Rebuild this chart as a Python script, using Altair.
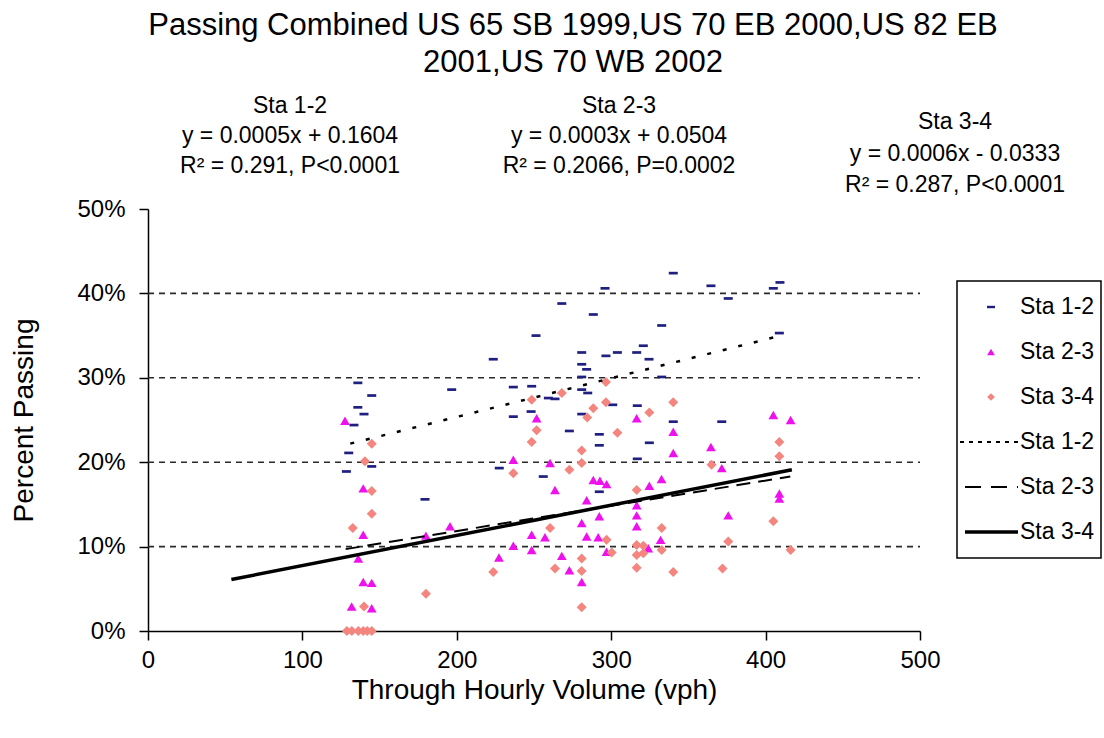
import altair as alt
import pandas as pd

# ---------------- data ----------------
# Sta 1-2 (navy dash markers): volume (vph), percent passing (%)
s12_x = [128.5, 130, 133.4, 135.9, 135.9, 139.9, 144.9, 144.9, 179.4, 196.7,
         223.6, 227.5, 236.6, 236.6, 248.5, 248.1, 251.3, 256, 259.3, 263.6,
         268, 272.9, 280.9, 280.9, 280.9, 280.9, 280.9, 284.1, 284.8, 288.4,
         292.3, 292.3, 292.3, 296, 296.6, 301, 304, 316.5, 316.9, 316.9,
         320.8, 324.5, 324.7, 332.7, 332.7, 340.2, 340.2, 364.6, 371.6, 375.8,
         405, 409.3, 408.9]
s12_y = [18.9, 21.1, 24.4, 29.4, 26.5, 25.7, 27.9, 19.5, 15.6, 28.6,
         32.2, 19.3, 28.9, 25.4, 29.0, 26.0, 35.0, 18.3, 27.6, 27.5,
         38.8, 23.7, 33.0, 31.6, 30.1, 28.6, 25.7, 31.0, 28.2, 37.5,
         23.3, 22.0, 16.5, 40.6, 32.6, 26.8, 33.0, 33.0, 26.7, 20.4,
         33.8, 32.2, 22.3, 36.2, 30.1, 42.4, 24.8, 40.9, 24.8, 39.4,
         40.6, 41.3, 35.3]

# Sta 2-3 (magenta triangles)
s23_x = [127.6, 139.4, 139.4, 136.2, 139.4, 144.9, 131.9, 144.9, 180, 195.6,
         227.3, 236.6, 236.6, 248.5, 248.5, 251.7, 257.1, 260.4, 263.6, 268,
         272.9, 280.9, 280.9, 284.1, 284.1, 288.4, 291.6, 292.3, 292.7, 297,
         297, 316.5, 316.5, 316.5, 316.5, 324.7, 324, 332.6, 332, 340.2,
         340.2, 364.6, 371.6, 375.8, 405, 416.2, 408.9, 408.9]
s23_y = [24.9, 16.9, 11.4, 8.6, 5.8, 5.7, 2.9, 2.7, 11.3, 12.4,
         8.7, 20.3, 10.1, 11.4, 9.6, 25.2, 11.1, 19.9, 16.7, 8.9,
         7.2, 12.8, 5.8, 15.5, 11.2, 17.9, 11.1, 13.6, 17.8, 17.4,
         9.4, 25.2, 14.9, 13.7, 12.4, 17.2, 9.8, 18.0, 10.8, 23.6,
         21.1, 21.8, 19.3, 13.7, 25.6, 25.0, 16.3, 15.7]

# Sta 3-4 (salmon diamonds)
s34_x = [128.8, 132, 136.2, 139.4, 142, 144.9, 132.6, 139.9, 140.5, 144.9,
         144.9, 144.9, 180, 223.6, 236.6, 248.5, 248.5, 251.7, 260.4, 263.6,
         268, 272.9, 280.9, 280.9, 280.9, 280.9, 280.9, 284.5, 288.4, 296.6,
         296.6, 297, 300.3, 304, 316.5, 316.5, 316.5, 316.5, 320.8, 320.8,
         324.7, 332.7, 332.7, 340.2, 340.2, 365, 372.1, 375.8, 405, 408.9,
         408.9, 416.2]
s34_y = [0, 0, 0, 0, 0, 0, 12.2, 2.9, 20.1, 22.2,
         16.6, 13.9, 4.4, 7.0, 18.7, 27.4, 22.4, 23.8, 12.2, 7.4,
         28.2, 19.1, 21.4, 19.9, 8.6, 7.1, 2.8, 25.3, 26.4, 29.5,
         27.1, 10.8, 9.3, 23.5, 16.7, 10.2, 9.0, 7.5, 10.1, 9.2,
         25.9, 12.2, 9.6, 27.1, 7.0, 19.7, 7.4, 10.6, 13.0, 22.4,
         20.7, 9.6]

# fitted trend lines as drawn (end points, % passing)
trend12_x = [131, 410]
trend12_y = [22.2, 35.0]
trend23_x = [128, 416]
trend23_y = [9.7, 18.3]
trend34_x = [54, 417]
trend34_y = [6.1, 19.1]

grid_values = [10, 20, 30, 40]
x_ticks = [0, 100, 200, 300, 400, 500]
y_ticks = [0, 10, 20, 30, 40, 50]

title_lines = ["Passing Combined US 65 SB 1999,US 70 EB 2000,US 82 EB",
               "2001,US 70 WB 2002"]
ann12 = ["Sta 1-2", "y = 0.0005x + 0.1604", "R\u00b2 = 0.291, P<0.0001"]
ann23 = ["Sta 2-3", "y = 0.0003x + 0.0504", "R\u00b2 = 0.2066, P=0.0002"]
ann34 = ["Sta 3-4", "y = 0.0006x - 0.0333", "R\u00b2 = 0.287, P<0.0001"]
legend_labels = ["Sta 1-2", "Sta 2-3", "Sta 3-4", "Sta 1-2", "Sta 2-3", "Sta 3-4"]

# ---------------- styling ----------------
FONT = "Liberation Sans"
NAVY = "#1F1F80"
MAGENTA = "#EE11EE"
SALMON = "#F4857F"
DASH_PATH = "M-1,-0.3L1,-0.3L1,0.3L-1,0.3Z"

W, H = 772, 422
X0, Y0 = 148, 209  # plot origin in the page

xscale = alt.Scale(domain=[0, 500], nice=False, zero=True)
yscale = alt.Scale(domain=[0, 0.5], nice=False, zero=True)


def pts(xs, ys):
    return pd.DataFrame({"x": xs, "y": [v / 100 for v in ys]})


xenc = alt.X("x:Q", scale=xscale,
             axis=alt.Axis(values=x_ticks, format="d", labelFlush=False,
                           title="Through Hourly Volume (vph)", grid=False))
yenc = alt.Y("y:Q", scale=yscale,
             axis=alt.Axis(values=[v / 100 for v in y_ticks], format=".0%",
                           labelFlush=False, title="Percent Passing", grid=False))

grid = alt.Chart(pd.DataFrame({"y": [v / 100 for v in grid_values]})).mark_rule(
    color="#2a2a2a", strokeDash=[6, 5], strokeWidth=1.6
).encode(y=yenc, x=alt.value(0), x2=alt.value(W))

p12 = alt.Chart(pts(s12_x, s12_y)).mark_point(
    shape=DASH_PATH, filled=True, size=81, color=NAVY, opacity=1
).encode(x=xenc, y="y:Q")
p23 = alt.Chart(pts(s23_x, s23_y)).mark_point(
    shape="triangle-up", filled=True, size=95, color=MAGENTA, opacity=1
).encode(x="x:Q", y="y:Q")
p34 = alt.Chart(pts(s34_x, s34_y)).mark_point(
    shape="diamond", filled=True, size=100, color=SALMON, opacity=1
).encode(x="x:Q", y="y:Q")

l12 = alt.Chart(pts(trend12_x, trend12_y)).mark_line(
    color="black", strokeWidth=2.5, strokeDash=[4, 12]
).encode(x="x:Q", y="y:Q")
l23 = alt.Chart(pts(trend23_x, trend23_y)).mark_line(
    color="black", strokeWidth=2, strokeDash=[14, 8]
).encode(x="x:Q", y="y:Q")
l34 = alt.Chart(pts(trend34_x, trend34_y)).mark_line(
    color="black", strokeWidth=3.5
).encode(x="x:Q", y="y:Q")


def txt(t, px, py, size, align="center", baseline="middle"):
    return alt.Chart(pd.DataFrame({"t": [t]})).mark_text(
        font=FONT, fontSize=size, color="black", align=align, baseline=baseline
    ).encode(text="t:N", x=alt.value(px - X0), y=alt.value(py - Y0))


texts = [
    txt(title_lines[0], 573, 26, 31),
    txt(title_lines[1], 573, 63, 31),
]
for i, t in enumerate(ann12):
    texts.append(txt(t, 290, 106 + 30 * i, 23))
for i, t in enumerate(ann23):
    texts.append(txt(t, 619, 106 + 30 * i, 23))
for i, t in enumerate(ann34):
    texts.append(txt(t, 955, 122 + 31.5 * i, 23))

# ---------------- legend (drawn by hand) ----------------
one = pd.DataFrame({"a": [0]})
row_y = [307, 352, 397, 442, 487, 532]
legend_box = alt.Chart(one).mark_rect(
    fill="white", stroke="black", strokeWidth=1.5
).encode(x=alt.value(957 - X0), x2=alt.value(1101 - X0),
         y=alt.value(281 - Y0), y2=alt.value(558 - Y0))

leg = [legend_box]
sym_specs = [(DASH_PATH, NAVY, 64), ("triangle-up", MAGENTA, 60), ("diamond", SALMON, 60)]
for (shape, col, sz), ry in zip(sym_specs, row_y[:3]):
    leg.append(alt.Chart(one).mark_point(shape=shape, filled=True, size=sz, color=col, opacity=1)
               .encode(x=alt.value(991 - X0), y=alt.value(ry - Y0)))
line_specs = [(960, [4, 5], 2), (965, [16, 10], 2), (965, None, 3.5)]
for (lx, dash, sw), ry in zip(line_specs, row_y[3:]):
    kw = dict(color="black", strokeWidth=sw)
    if dash:
        kw["strokeDash"] = dash
    leg.append(alt.Chart(one).mark_rule(**kw).encode(
        x=alt.value(lx - X0), x2=alt.value(1018 - X0), y=alt.value(ry - Y0)))
for lab, ry in zip(legend_labels, row_y):
    leg.append(txt(lab, 1020, ry, 23, align="left"))

chart = alt.layer(grid, p12, p23, p34, l12, l23, l34, *texts, *leg).properties(
    width=W, height=H,
    autosize=alt.AutoSizeParams(type="none"),
    padding={"left": X0, "top": Y0, "right": 1104 - X0 - W, "bottom": 738 - Y0 - H},
).configure_view(stroke=None).configure_axis(
    labelFont=FONT, titleFont=FONT, labelColor="black", titleColor="black",
    domainColor="black", tickColor="black", domainWidth=1.5, tickWidth=1.5,
    tickSize=9, labelFontSize=24, titleFontSize=28, titleFontWeight="normal",
).configure_axisY(labelPadding=14, titlePadding=38).configure_axisX(
    labelPadding=8, titlePadding=4
)

chart.save("out.html", embed_options={"renderer": "svg", "actions": False})
